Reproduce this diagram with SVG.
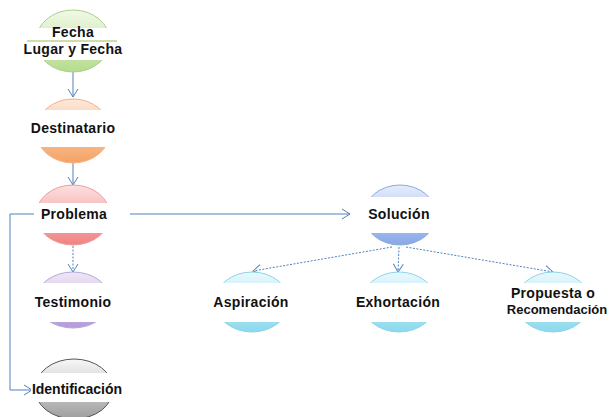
<svg xmlns="http://www.w3.org/2000/svg" width="609" height="417" viewBox="0 0 609 417">
<style>
.t{font-family:"Liberation Sans",Arial,sans-serif;font-weight:bold;font-size:14px;letter-spacing:0.3px;fill:#111;text-anchor:middle}
.band{fill:#fff}
.ln{fill:none;stroke:#4f81bd;stroke-width:1}
.dash{stroke-dasharray:2,1.5}
</style>
<defs>
<linearGradient id="gGreen" x1="0" y1="0" x2="0" y2="1"><stop offset="0" stop-color="#f2f9e8"/><stop offset="1" stop-color="#b5dc8c"/></linearGradient>
<linearGradient id="gOrange" x1="0" y1="0" x2="0" y2="1"><stop offset="0" stop-color="#fde9db"/><stop offset="1" stop-color="#f5a263"/></linearGradient>
<linearGradient id="gRed" x1="0" y1="0" x2="0" y2="1"><stop offset="0" stop-color="#fce0e0"/><stop offset="1" stop-color="#f08282"/></linearGradient>
<linearGradient id="gPurple" x1="0" y1="0" x2="0" y2="1"><stop offset="0" stop-color="#efe8f6"/><stop offset="1" stop-color="#b39bd8"/></linearGradient>
<linearGradient id="gGrey" x1="0" y1="0" x2="0" y2="1"><stop offset="0" stop-color="#f8f8f8"/><stop offset="1" stop-color="#9e9e9e"/></linearGradient>
<linearGradient id="gBlue" x1="0" y1="0" x2="0" y2="1"><stop offset="0" stop-color="#e6edfb"/><stop offset="1" stop-color="#87a7e8"/></linearGradient>
<linearGradient id="gCyan" x1="0" y1="0" x2="0" y2="1"><stop offset="0" stop-color="#eaf9fd"/><stop offset="1" stop-color="#8bd9ee"/></linearGradient>
<marker id="arr" markerWidth="10" markerHeight="12" refX="9" refY="6" orient="auto" markerUnits="userSpaceOnUse">
<path d="M1,1 L9,6 L1,11" fill="none" stroke="#4f81bd" stroke-width="1"/>
</marker>
</defs>

<g id="connectors">
<line class="ln" x1="73" y1="72" x2="73" y2="97" marker-end="url(#arr)"/>
<line class="ln" x1="73" y1="163" x2="73" y2="185" marker-end="url(#arr)"/>
<line class="ln dash" x1="73" y1="246" x2="73" y2="272" marker-end="url(#arr)"/>
<line class="ln" x1="130" y1="214" x2="350" y2="214" marker-end="url(#arr)"/>
<polyline class="ln" points="34,214 10,214 10,390 32,390" marker-end="url(#arr)"/>
<line class="ln dash" x1="392" y1="247" x2="253" y2="271" marker-end="url(#arr)"/>
<line class="ln dash" x1="399" y1="247" x2="398" y2="272" marker-end="url(#arr)"/>
<line class="ln dash" x1="406" y1="247" x2="553" y2="272" marker-end="url(#arr)"/>
</g>

<g id="fecha">
<ellipse cx="73" cy="41" rx="37" ry="31" fill="url(#gGreen)" stroke="#a9d08e"/>
<rect class="band" x="25" y="28" width="96" height="32"/>
<text class="t" x="73" y="37">Fecha</text>
<line x1="27" y1="41" x2="117" y2="41" stroke="#9bbb59" stroke-width="1.2"/>
<text class="t" x="73" y="54">Lugar y Fecha</text>
</g>

<g id="destinatario">
<ellipse cx="73" cy="131" rx="37" ry="32" fill="url(#gOrange)" stroke="#f4b183"/>
<rect class="band" x="25" y="110" width="96" height="37"/>
<text class="t" x="73" y="133">Destinatario</text>
</g>

<g id="problema">
<ellipse cx="73" cy="215" rx="37" ry="30" fill="url(#gRed)" stroke="#f19c9c"/>
<rect class="band" x="34" y="203" width="96" height="30"/>
<text class="t" x="74" y="219">Problema</text>
</g>

<g id="testimonio">
<ellipse cx="73" cy="300" rx="37" ry="28" fill="url(#gPurple)" stroke="#b4a7d6"/>
<rect class="band" x="25" y="283" width="96" height="39"/>
<text class="t" x="73" y="307">Testimonio</text>
</g>

<g id="identificacion">
<ellipse cx="74" cy="389" rx="39" ry="30" fill="url(#gGrey)" stroke="#555"/>
<rect class="band" x="31" y="373" width="94" height="29"/>
<text class="t" x="77" y="394" style="letter-spacing:0">Identificación</text>
</g>

<g id="solucion">
<ellipse cx="400" cy="215" rx="36" ry="30" fill="url(#gBlue)" stroke="#8eaadb"/>
<rect class="band" x="352" y="197" width="96" height="36"/>
<text class="t" x="399" y="219">Solución</text>
</g>

<g id="aspiracion">
<ellipse cx="252" cy="302" rx="37" ry="30" fill="url(#gCyan)" stroke="#8dd3e6"/>
<rect class="band" x="204" y="283" width="96" height="39"/>
<text class="t" x="251" y="307">Aspiración</text>
</g>

<g id="exhortacion">
<ellipse cx="399" cy="302" rx="37" ry="30" fill="url(#gCyan)" stroke="#8dd3e6"/>
<rect class="band" x="351" y="283" width="96" height="39"/>
<text class="t" x="398" y="307">Exhortación</text>
</g>

<g id="propuesta">
<ellipse cx="553" cy="302" rx="37" ry="30" fill="url(#gCyan)" stroke="#8dd3e6"/>
<rect class="band" x="505" y="283" width="102" height="39"/>
<text class="t" x="553" y="298">Propuesta o</text>
<text class="t" x="557" y="314" style="letter-spacing:0;font-size:13px">Recomendación</text>
</g>
</svg>
